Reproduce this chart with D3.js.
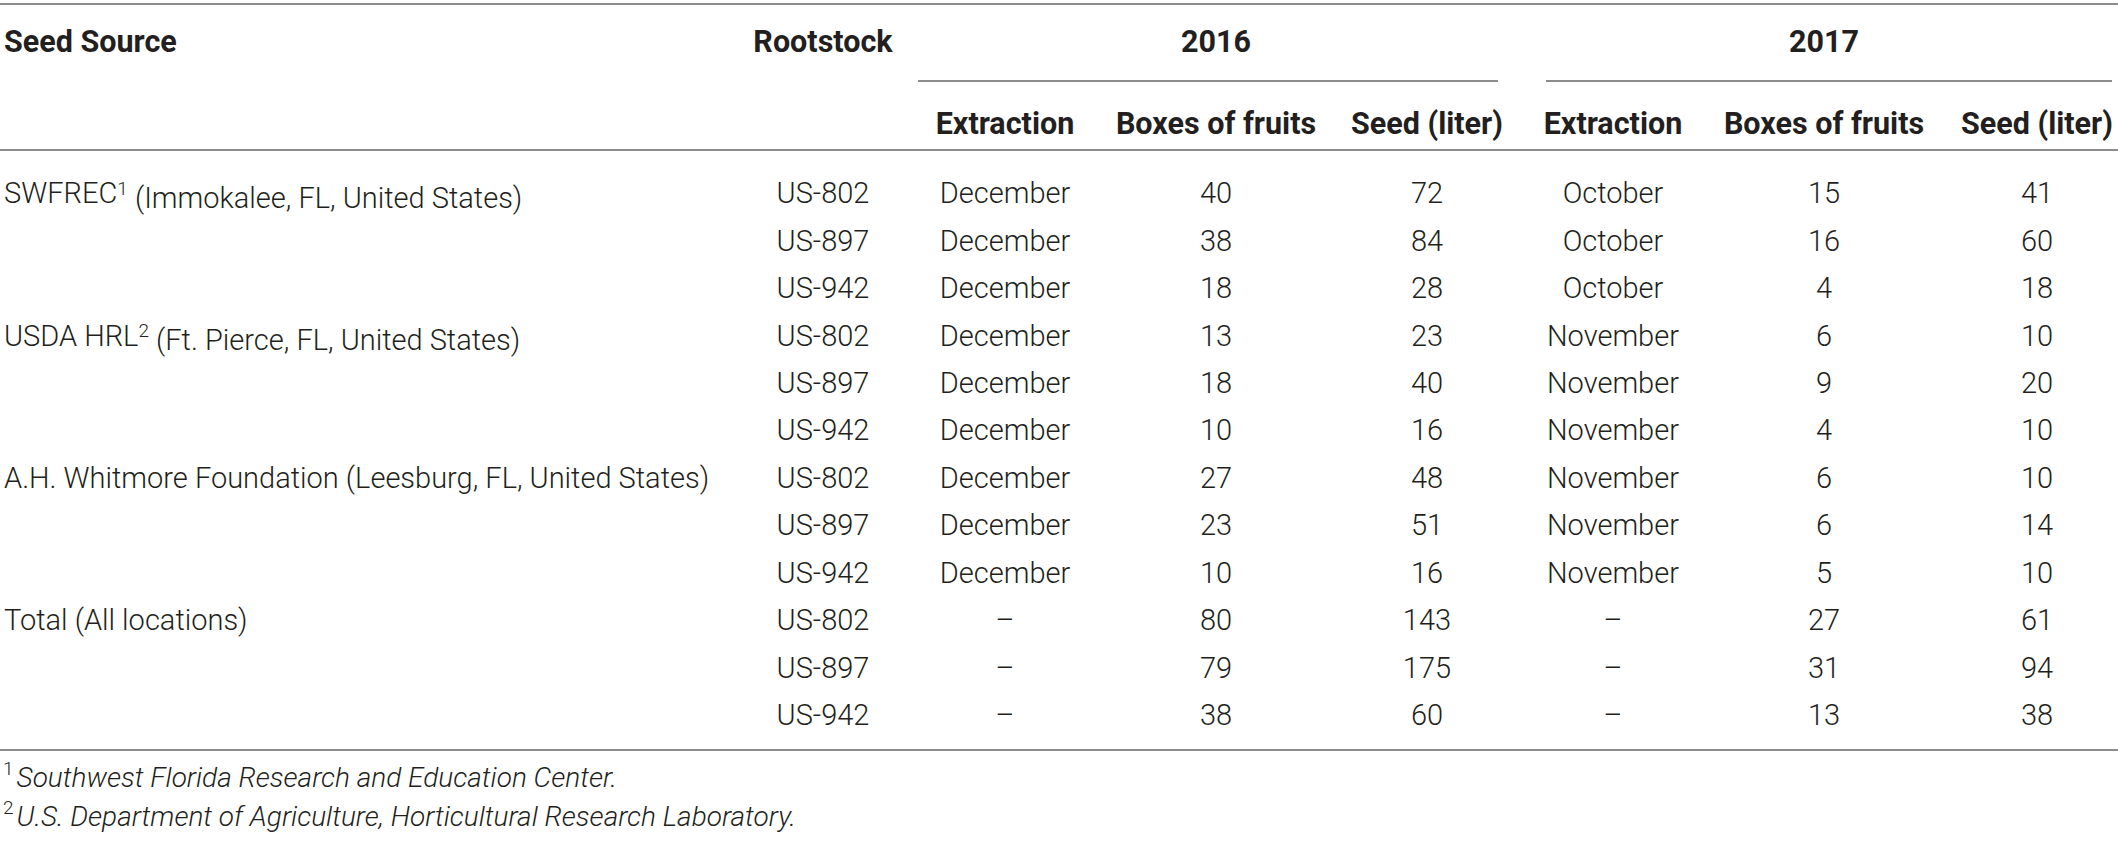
<!DOCTYPE html>
<html>
<head>
<meta charset="utf-8">
<script src="https://cdn.jsdelivr.net/npm/d3@7/dist/d3.min.js"></script>
<style>
  body { margin: 0; background: #fff; }
  svg text { font-family: "Roboto", "Liberation Sans", sans-serif; fill: #231f20; }
</style>
</head>
<body>
<svg id="table"></svg>
<script>
(function() {

  // table content
  const sources = ['SWFREC', 'USDA HRL', 'A.H. Whitmore Foundation (Leesburg, FL, United States)', 'Total (All locations)'];
  const sourceTails = [' (Immokalee, FL, United States)', ' (Ft. Pierce, FL, United States)', '', ''];
  const sourceNotes = ['1', '2', '', ''];
  const rootstocks = ['US-802', 'US-897', 'US-942'];
  const extraction2016 = ['December', 'December', 'December', 'December', 'December', 'December',
    'December', 'December', 'December', '–', '–', '–'];
  const boxes2016 = [40, 38, 18, 13, 18, 10, 27, 23, 10, 80, 79, 38];
  const seed2016 = [72, 84, 28, 23, 40, 16, 48, 51, 16, 143, 175, 60];
  const extraction2017 = ['October', 'October', 'October', 'November', 'November', 'November',
    'November', 'November', 'November', '–', '–', '–'];
  const boxes2017 = [15, 16, 4, 6, 9, 4, 6, 6, 5, 27, 31, 13];
  const seed2017 = [41, 60, 18, 10, 20, 10, 10, 14, 10, 61, 94, 38];
  const years = ['2016', '2017'];
  const subHeaders = ['Extraction', 'Boxes of fruits', 'Seed (liter)'];
  const footnotes = [
    ['1', 'Southwest Florida Research and Education Center.'],
    ['2', 'U.S. Department of Agriculture, Horticultural Research Laboratory.']
  ];

  const width = 2118;
  const height = 842;
  const fontSize = 29;
  const headSize = 30.5;
  const noteSize = 28;
  const lineColor = '#8c8c8c';

  const svg = d3.select('#table')
    .attr('width', width)
    .attr('height', height);

  const columns = ['root', 'ex16', 'box16', 'seed16', 'ex17', 'box17', 'seed17'];
  const colX = d3.scaleOrdinal()
    .domain(columns)
    .range([823, 1005, 1216, 1427, 1613, 1824, 2037]);

  const rowIndex = d3.range(boxes2016.length);
  const y = d3.scalePoint()
    .domain(rowIndex)
    .range([193, 715]);

  // rules
  const rules = [
    [0, width, 4],
    [918, 1498, 81],
    [1546, 2112, 81],
    [0, width, 150],
    [0, width, 750]
  ];
  svg.append('g').attr('class', 'rules')
    .selectAll('line')
    .data(rules)
    .enter()
    .append('line')
    .attr('x1', function(d) { return d[0]; })
    .attr('x2', function(d) { return d[1]; })
    .attr('y1', function(d) { return d[2]; })
    .attr('y2', function(d) { return d[2]; })
    .style('stroke', lineColor)
    .style('stroke-width', 2);

  // header
  const header = svg.append('g').attr('class', 'header')
    .style('font-size', headSize + 'px')
    .style('font-weight', 700);

  header.append('text')
    .attr('x', 4)
    .attr('y', 41)
    .attr('dy', '0.35em')
    .text('Seed Source');

  header.append('text')
    .attr('x', colX('root'))
    .attr('y', 41)
    .attr('dy', '0.35em')
    .attr('text-anchor', 'middle')
    .text('Rootstock');

  header.selectAll('.year')
    .data(years)
    .enter()
    .append('text')
    .attr('class', 'year')
    .attr('x', function(d, i) { return i === 0 ? colX('box16') : colX('box17'); })
    .attr('y', 41)
    .attr('dy', '0.35em')
    .attr('text-anchor', 'middle')
    .text(function(d) { return d; });

  header.selectAll('.sub')
    .data(columns.slice(1))
    .enter()
    .append('text')
    .attr('class', 'sub')
    .attr('x', function(d) { return colX(d); })
    .attr('y', 123)
    .attr('dy', '0.35em')
    .attr('text-anchor', 'middle')
    .text(function(d, i) { return subHeaders[i % 3]; });

  // body
  const body = svg.append('g').attr('class', 'body')
    .style('font-size', fontSize + 'px')
    .style('font-weight', 300);

  const srcText = body.selectAll('.source')
    .data(sources)
    .enter()
    .append('text')
    .attr('class', 'source')
    .attr('x', 4)
    .attr('y', function(d, i) { return y(i * 3); })
    .attr('dy', '0.35em');
  srcText.append('tspan').text(function(d) { return d; });
  srcText.append('tspan')
    .attr('dy', '-0.45em')
    .style('font-size', '19px')
    .text(function(d, i) { return sourceNotes[i]; });
  srcText.append('tspan')
    .attr('dy', function(d, i) { return sourceNotes[i] ? '0.45em' : null; })
    .text(function(d, i) { return sourceTails[i]; });

  const cells = [
    ['root', rowIndex.map(function(i) { return rootstocks[i % 3]; })],
    ['ex16', extraction2016],
    ['box16', boxes2016],
    ['seed16', seed2016],
    ['ex17', extraction2017],
    ['box17', boxes2017],
    ['seed17', seed2017]
  ];

  body.selectAll('.col')
    .data(cells)
    .enter()
    .append('g')
    .attr('class', 'col')
    .selectAll('text')
    .data(function(c) {
      return c[1].map(function(v, i) { return { col: c[0], value: v, row: i }; });
    })
    .enter()
    .append('text')
    .attr('x', function(d) { return colX(d.col); })
    .attr('y', function(d) { return y(d.row); })
    .attr('dy', '0.35em')
    .attr('text-anchor', 'middle')
    .text(function(d) { return d.value; });

  // footnotes
  const notes = svg.append('g').attr('class', 'notes')
    .style('font-size', noteSize + 'px')
    .style('font-weight', 300);

  const noteText = notes.selectAll('text')
    .data(footnotes)
    .enter()
    .append('text')
    .attr('x', 3)
    .attr('y', function(d, i) { return 783 + i * 39; })
    .attr('dy', '0.35em');
  noteText.append('tspan')
    .attr('dy', '-0.4em')
    .style('font-size', '19px')
    .text(function(d) { return d[0]; });
  noteText.append('tspan')
    .attr('dy', '0.4em')
    .attr('dx', 3)
    .style('font-style', 'italic')
    .text(function(d) { return d[1]; });

})();
</script>
</body>
</html>
